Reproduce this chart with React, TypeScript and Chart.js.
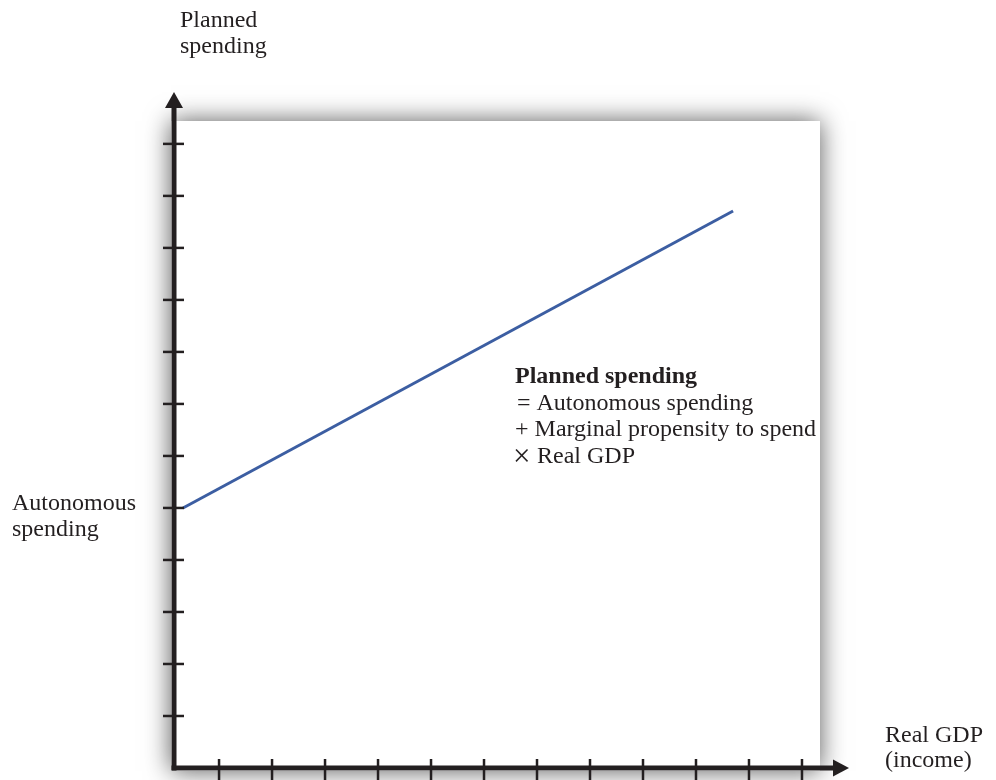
import React, { useEffect, useRef } from "react";
import { Chart, registerables } from "chart.js";

Chart.register(...registerables);

// ---- data ----
const realGdp = [0.32, 10.7];
const plannedSpending = [5.0, 10.71];
const xTickValues = [1, 2, 3, 4, 5, 6, 7, 8, 9, 10, 11, 12];
const yTickValues = [1, 2, 3, 4, 5, 6, 7, 8, 9, 10, 11, 12];
const xRange = [0.15, 12.34];
const yRange = [0, 12.44];
const yAxisTitle = ["Planned", "spending"];
const xAxisTitle = ["Real GDP", "(income)"];
const interceptLabel = ["Autonomous", "spending"];
const equationLines = [
  "= Autonomous spending",
  "+ Marginal propensity to spend",
  "Real GDP",
];
const timesSign = "\u00D7";
const equationTitle = "Planned spending";

const INK = "#231f20";
const LINE = "#3c5ea2";
const FONT = '"Liberation Serif", "Times New Roman", serif';

const framePlugin = {
  id: "frame",
  beforeDraw(chart: any) {
    const { ctx, chartArea, width, height } = chart;
    const { left, top, right, bottom } = chartArea;
    ctx.save();
    ctx.fillStyle = "#ffffff";
    ctx.fillRect(0, 0, width, height);
    ctx.shadowColor = "rgba(0,0,0,0.65)";
    ctx.shadowBlur = 24;
    ctx.shadowOffsetX = 0;
    ctx.shadowOffsetY = 0;
    ctx.fillStyle = "#ffffff";
    ctx.fillRect(left - 3, top, right - left + 3, bottom - top + 3);
    ctx.restore();
  },
  afterDatasetsDraw(chart: any) {
    const { ctx, chartArea, scales } = chart;
    const { left, top, right, bottom } = chartArea;
    const xs = scales.x;
    const ys = scales.y;
    ctx.save();
    ctx.strokeStyle = INK;
    ctx.fillStyle = INK;
    // axes
    ctx.lineWidth = 5;
    ctx.lineCap = "butt";
    ctx.beginPath();
    ctx.moveTo(left, bottom + 2.5);
    ctx.lineTo(left, top - 14);
    ctx.stroke();
    ctx.beginPath();
    ctx.moveTo(left - 2.5, bottom);
    ctx.lineTo(right + 14, bottom);
    ctx.stroke();
    // arrowheads
    ctx.beginPath();
    ctx.moveTo(left, top - 29);
    ctx.lineTo(left - 9, top - 13);
    ctx.lineTo(left + 9, top - 13);
    ctx.closePath();
    ctx.fill();
    ctx.beginPath();
    ctx.moveTo(right + 29, bottom);
    ctx.lineTo(right + 13, bottom - 8.5);
    ctx.lineTo(right + 13, bottom + 8.5);
    ctx.closePath();
    ctx.fill();
    // ticks
    ctx.lineWidth = 2.5;
    for (const v of yTickValues) {
      const py = ys.getPixelForValue(v);
      ctx.beginPath();
      ctx.moveTo(left - 11, py);
      ctx.lineTo(left + 10, py);
      ctx.stroke();
    }
    for (const v of xTickValues) {
      const px = xs.getPixelForValue(v);
      ctx.beginPath();
      ctx.moveTo(px, bottom - 9);
      ctx.lineTo(px, bottom + 14);
      ctx.stroke();
    }
    // texts
    ctx.textBaseline = "alphabetic";
    ctx.textAlign = "left";
    ctx.font = `24px ${FONT}`;
    ctx.fillText(yAxisTitle[0], 180, 27);
    ctx.fillText(yAxisTitle[1], 180, 53);
    ctx.fillText(interceptLabel[0], 12, 510);
    ctx.fillText(interceptLabel[1], 12, 536);
    ctx.fillText(xAxisTitle[0], 885, 742);
    ctx.fillText(xAxisTitle[1], 885, 767);
    ctx.font = `bold 24px ${FONT}`;
    ctx.fillText(equationTitle, 515, 383);
    ctx.font = `24px ${FONT}`;
    ctx.fillText(equationLines[0], 517, 410);
    ctx.fillText(equationLines[1], 515, 436);
    ctx.font = `31px ${FONT}`;
    ctx.fillText(timesSign, 513, 466);
    ctx.font = `24px ${FONT}`;
    ctx.fillText(equationLines[2], 537, 463);
    ctx.restore();
  },
};

export default function App() {
  const ref = useRef<HTMLCanvasElement | null>(null);
  useEffect(() => {
    document.body.style.margin = "0";
    const canvas = ref.current;
    if (!canvas) return;
    const chart = new Chart(canvas, {
      type: "line",
      data: {
        datasets: [
          {
            data: realGdp.map((x, i) => ({ x, y: plannedSpending[i] })),
            borderColor: LINE,
            borderWidth: 3,
            pointRadius: 0,
            fill: false,
            tension: 0,
          },
        ],
      },
      options: {
        animation: false,
        responsive: false,
        layout: { padding: { left: 174, right: 176, top: 121, bottom: 12 } },
        plugins: { legend: { display: false }, tooltip: { enabled: false } },
        scales: {
          x: { type: "linear", min: xRange[0], max: xRange[1], display: false },
          y: { type: "linear", min: yRange[0], max: yRange[1], display: false },
        },
      },
      plugins: [framePlugin],
    });
    return () => chart.destroy();
  }, []);
  return (
    <div style={{ width: 996, height: 780 }}>
      <canvas ref={ref} width={996} height={780} style={{ display: "block" }} />
    </div>
  );
}
